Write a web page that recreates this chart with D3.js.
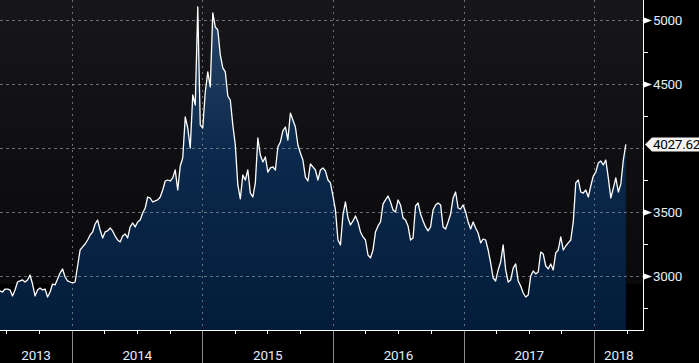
<!DOCTYPE html>
<html>
<head>
<meta charset="utf-8">
<script src="https://cdn.jsdelivr.net/npm/d3@7"></script>
<style>
    html, body { margin: 0; padding: 0; background: #000; }
    svg { display: block; }
    text { font-family: Roboto, "Liberation Sans", sans-serif; }
</style>
</head>
<body>
<div id="app"></div>
<script>
// weekly closes, first week ending 2013-06-14, last 2018-03-30
const startDate = new Date(2013, 5, 14);
const values = [
    2883, 2875, 2898, 2898, 2891, 2844, 2891, 2953, 2961, 2969,
    2953, 2969, 3008, 2937, 2844, 2891, 2906, 2891, 2898, 2836,
    2875, 2937, 2930, 2977, 3023, 3055, 2992, 2961, 2953, 2945,
    2953, 3078, 3203, 3227, 3250, 3281, 3320, 3344, 3406, 3437,
    3359, 3297, 3344, 3352, 3375, 3352, 3312, 3281, 3266, 3312,
    3328, 3297, 3383, 3414, 3383, 3422, 3437, 3492, 3531, 3617,
    3609, 3578, 3586, 3594, 3617, 3672, 3742, 3750, 3742, 3766,
    3828, 3672, 3859, 3922, 4242, 4156, 4000, 4414, 4336, 5102,
    4180, 4156, 4437, 4594, 4477, 5055, 4945, 4922, 4727, 4625,
    4594, 4406, 4375, 4180, 4023, 3711, 3602, 3789, 3750, 3828,
    3648, 3617, 3727, 4078, 3945, 3891, 3930, 3812, 3844, 3852,
    3828, 4008, 4047, 4133, 4164, 4062, 4273, 4219, 4164, 4023,
    3961, 3906, 3773, 3742, 3875, 3852, 3828, 3750, 3828, 3844,
    3820, 3750, 3727, 3625, 3516, 3281, 3242, 3477, 3578, 3453,
    3398, 3430, 3469, 3422, 3344, 3305, 3281, 3164, 3141, 3203,
    3344, 3391, 3422, 3562, 3594, 3625, 3578, 3516, 3500, 3594,
    3555, 3453, 3437, 3391, 3281, 3297, 3547, 3570, 3484, 3430,
    3383, 3352, 3383, 3516, 3555, 3570, 3555, 3383, 3367, 3422,
    3484, 3609, 3656, 3531, 3523, 3555, 3500, 3422, 3367, 3422,
    3375, 3336, 3258, 3289, 3281, 3203, 3102, 2984, 2961, 3047,
    3109, 3242, 3047, 2953, 2969, 3062, 3094, 2961, 2922, 2867,
    2836, 2852, 3000, 3039, 3016, 3031, 3187, 3172, 3078, 3055,
    3094, 3047, 3180, 3203, 3305, 3203, 3234, 3258, 3281, 3422,
    3727, 3750, 3656, 3648, 3672, 3617, 3703, 3781, 3812, 3883,
    3898, 3867, 3906, 3766, 3609, 3687, 3766, 3656, 3719, 3906,
    4027.62
];
const majorTicks = [3000, 3500, 4000, 4500, 5000];
const minorTicks = [2750, 3250, 3750, 4250, 4750];
const yearLabels = ["2013", "2014", "2015", "2016", "2017", "2018"];

const W = 699, H = 363;
const plotR = 643, plotB = 330;

const data = values.map((v, i) => ({ date: d3.timeWeek.offset(startDate, i), value: v }));
const last = data[data.length - 1];

const x = d3.scaleTime()
    .domain([startDate, new Date(2018, 4, 17)])
    .range([0, plotR]);

const y = d3.scaleLinear()
    .domain([2578, 5156])
    .range([plotB, 0]);

const svg = d3.select("#app")
    .append("svg")
    .attr("width", W)
    .attr("height", H);

const defs = svg.append("defs");

const bg = defs.append("linearGradient")
    .attr("id", "bg")
    .attr("gradientUnits", "userSpaceOnUse")
    .attr("x1", 0).attr("y1", 0).attr("x2", 0).attr("y2", plotB);
bg.append("stop").attr("offset", 0).attr("stop-color", "#17171a");
bg.append("stop").attr("offset", 0.55).attr("stop-color", "#0e0e11");
bg.append("stop").attr("offset", 0.86).attr("stop-color", "#0a0a0c");
bg.append("stop").attr("offset", 0.861).attr("stop-color", "#000");

const fill = defs.append("linearGradient")
    .attr("id", "fill")
    .attr("gradientUnits", "userSpaceOnUse")
    .attr("x1", 0).attr("y1", 0).attr("x2", 0).attr("y2", plotB);
fill.append("stop").attr("offset", 0).attr("stop-color", "#2c4767");
fill.append("stop").attr("offset", 0.45).attr("stop-color", "#0c2a4d");
fill.append("stop").attr("offset", 1).attr("stop-color", "#031c3a");

svg.append("rect")
    .attr("x", 0).attr("y", 0)
    .attr("width", plotR).attr("height", plotB)
    .attr("fill", "url(#bg)");

// area + line
const area = d3.area()
    .x(d => x(d.date))
    .y0(plotB)
    .y1(d => y(d.value));

const line = d3.line()
    .x(d => x(d.date))
    .y(d => y(d.value));

svg.append("path")
    .datum(data)
    .attr("d", area)
    .attr("fill", "url(#fill)");

// grid
const years = d3.timeYear.range(new Date(2014, 0, 1), new Date(2018, 0, 2));

svg.append("g")
    .selectAll("line")
    .data(majorTicks)
    .join("line")
    .attr("x1", 0).attr("x2", plotR)
    .attr("y1", d => Math.round(y(d)) + 0.5)
    .attr("y2", d => Math.round(y(d)) + 0.5)
    .attr("stroke", "#8a8e96")
    .attr("stroke-opacity", 0.75)
    .attr("stroke-dasharray", "3,3");

svg.append("g")
    .selectAll("line")
    .data(years)
    .join("line")
    .attr("x1", d => Math.round(x(d)) + 0.5)
    .attr("x2", d => Math.round(x(d)) + 0.5)
    .attr("y1", 0).attr("y2", plotB)
    .attr("stroke", "#8a8e96")
    .attr("stroke-opacity", 0.75)
    .attr("stroke-dasharray", "2,4");

svg.append("path")
    .datum(data)
    .attr("d", line)
    .attr("fill", "none")
    .attr("stroke", "#fff")
    .attr("stroke-width", 1.3)
    .attr("stroke-linejoin", "round");

// right axis
svg.append("line")
    .attr("x1", plotR + 0.5).attr("x2", plotR + 0.5)
    .attr("y1", 0).attr("y2", plotB + 1)
    .attr("stroke", "#fff");

svg.append("g")
    .selectAll("line")
    .data(minorTicks)
    .join("line")
    .attr("x1", plotR).attr("x2", plotR + 5)
    .attr("y1", d => Math.round(y(d)) + 0.5)
    .attr("y2", d => Math.round(y(d)) + 0.5)
    .attr("stroke", "#fff");

// the tick hidden under the last-value tag is not drawn
const ly = Math.round(y(last.value)) + 0.5;
const yt = svg.append("g")
    .selectAll("g")
    .data(majorTicks.filter(d => Math.abs(y(d) - ly) > 12))
    .join("g")
    .attr("transform", d => `translate(${plotR},${Math.round(y(d)) + 0.5})`);

yt.append("path")
    .attr("d", "M1,-3L1,3L9,0Z")
    .attr("fill", "#fff");

yt.append("text")
    .attr("x", 10)
    .attr("dy", "0.36em")
    .attr("fill", "#e2ecf8")
    .attr("font-size", 13.5)
    .attr("letter-spacing", -0.3)
    .text(d => d);

// last value label
svg.append("path")
    .attr("d", `M${plotR + 2},${ly}L${plotR + 9},${ly - 7}L${W + 2},${ly - 7}L${W + 2},${ly + 7}L${plotR + 9},${ly + 7}Z`)
    .attr("fill", "#f4f4f4");
svg.append("text")
    .attr("x", plotR + 10)
    .attr("y", ly)
    .attr("dy", "0.36em")
    .attr("fill", "#000")
    .attr("font-size", 13.5)
    .attr("letter-spacing", -0.3)
    .text(last.value.toFixed(2));

// bottom axis
svg.append("line")
    .attr("x1", 0).attr("x2", plotR + 1)
    .attr("y1", plotB + 0.5).attr("y2", plotB + 0.5)
    .attr("stroke", "#fff");

const quarters = d3.timeMonth.every(3).range(x.domain()[0], x.domain()[1]);
svg.append("g")
    .selectAll("line")
    .data(quarters)
    .join("line")
    .attr("x1", d => Math.round(x(d)) + 0.5)
    .attr("x2", d => Math.round(x(d)) + 0.5)
    .attr("y1", plotB).attr("y2", plotB + 4)
    .attr("stroke", "#fff");

svg.append("g")
    .selectAll("line")
    .data(years)
    .join("line")
    .attr("x1", d => Math.round(x(d)) + 0.5)
    .attr("x2", d => Math.round(x(d)) + 0.5)
    .attr("y1", plotB + 1).attr("y2", H)
    .attr("stroke", "#8c8c8c");

const bounds = [0, ...years.map(d => x(d)), plotR];
svg.append("g")
    .selectAll("text")
    .data(yearLabels)
    .join("text")
    .attr("x", (d, i) => (bounds[i] + bounds[i + 1]) / 2)
    .attr("y", 360)
    .attr("text-anchor", "middle")
    .attr("fill", "#e2ecf8")
    .attr("font-size", 13.5)
    .attr("letter-spacing", -0.3)
    .text(d => d);
</script>
</body>
</html>
